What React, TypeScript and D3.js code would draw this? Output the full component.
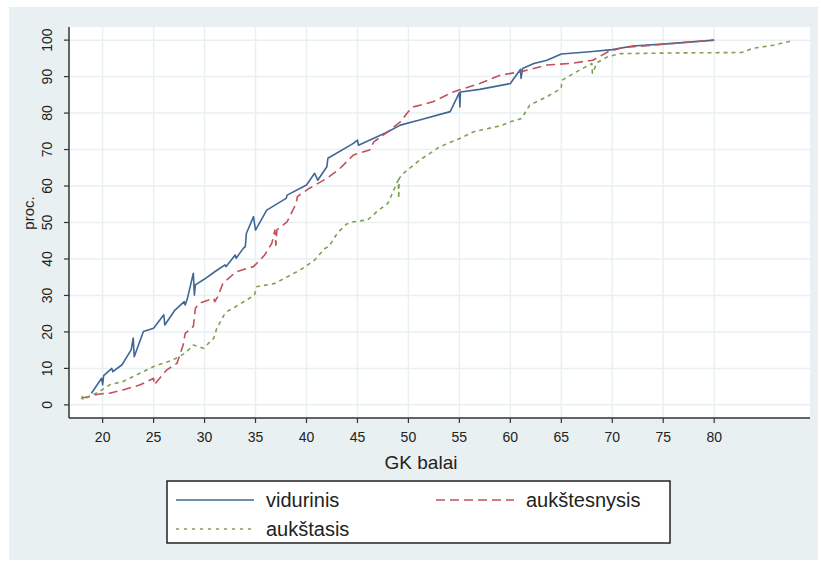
import React from 'react'
import * as d3 from 'd3'

// cumulative share (proc.) by GK balai
const vidurinis: [number, number][] = [
  [18.9, 3.2], [19.9, 7.3], [20, 5.5], [20.1, 8], [20.9, 10], [21, 9.1], [21.9, 11], [22.8, 15.1],
  [23, 18.3], [23.1, 13.2], [24, 20.1], [25, 21], [26, 24.7], [26.1, 21.9], [27.1, 26], [28, 28.3],
  [28.1, 27.4], [28.3, 29], [28.9, 36.1], [29, 30.1], [29.1, 32.9], [30, 34.5], [31, 36.5], [32, 38.4],
  [32.1, 37.9], [33, 41.1], [33.1, 40.2], [33.8, 42.9], [34, 43.4], [34.1, 47], [34.8, 51.6], [35, 47.9],
  [36.1, 53.4], [38, 56.6], [38.1, 57.5], [40, 60.3], [40.8, 63.5], [41.1, 61.6], [42, 65.3], [42.1, 67.6],
  [44.6, 71.7], [45, 72.6], [45.1, 71.2], [48, 74.9], [49.2, 76.7], [51.1, 78.1], [54.1, 80.4], [55, 85.6],
  [55.05, 81.7], [55.1, 85.8], [57, 86.5], [60, 88.1], [61, 92], [61.05, 89.5], [61.2, 92.2], [62.3, 93.6],
  [63.6, 94.5], [65, 96.2], [67.8, 96.8], [70, 97.4], [72, 98.4], [76, 99.1], [80, 100],
]

const aukstesnysis: [number, number][] = [
  [17.9, 1.8], [19.7, 3], [20.7, 3.2], [22, 4.1], [23.7, 5.5], [25, 7.3], [25.05, 5.5], [26.3, 9.6],
  [27.3, 11.4], [27.9, 16.4], [28.1, 19.6], [28.9, 21.5], [29.1, 26.5], [29.5, 27.9], [30.9, 29.2], [31, 28.3],
  [31.3, 29.7], [31.8, 33.3], [33.1, 36.5], [34.8, 37.9], [35.9, 41.1], [36.6, 44.3], [36.9, 47.9], [37, 43.8],
  [37.1, 48], [38.1, 50.2], [39, 55.3], [39.1, 57.1], [40.3, 59.4], [42, 62.1], [43.2, 64.6], [44.6, 68.5],
  [46.2, 69.9], [46.6, 72.1], [48, 74.9], [49.2, 77.6], [50, 80.4], [50.5, 81.7], [52.4, 83.1], [54.4, 85.8],
  [57, 88.1], [59, 90.4], [61, 91.3], [63.6, 93.2], [65.9, 93.6], [68.1, 94.5], [69.6, 96.8], [71.1, 98],
  [74, 98.6], [76.7, 99.3], [80, 100],
]

const aukstasis: [number, number][] = [
  [18, 2.5], [18.05, 1.4], [19.7, 3.7], [20.7, 5.5], [22, 6.4], [25, 10.5], [26.9, 12.3], [28.1, 14.2],
  [28.9, 16.4], [29.9, 15.5], [30.9, 18.3], [31.2, 21], [32, 25.1], [32.2, 25.6], [32.8, 26.5], [34.9, 30.1],
  [35.1, 32.4], [36.9, 33.3], [39.4, 37], [40.8, 39.7], [41.8, 42.9], [42.2, 43.4], [43, 47], [43.9, 49.5],
  [44.6, 50.2], [46, 50.7], [46.9, 53], [48, 55.3], [48.7, 59.8], [49, 61.6], [49.05, 56.6], [49.1, 62.1],
  [49.5, 63.5], [51.1, 67.1], [53.1, 70.8], [55.1, 73.1], [56.4, 74.9], [59, 76.5], [60, 77.6], [61.1, 78.5],
  [61.9, 82.2], [63.6, 84.5], [65, 86.8], [65.05, 89], [66.8, 91.8], [68, 93.6], [68.05, 90.9], [68.5, 93.8],
  [69.5, 95.4], [70.8, 96.3], [76.7, 96.5], [82.7, 96.6], [83.7, 97.7], [85.8, 98.6], [87.6, 99.8],
]

const xTicks = [20, 25, 30, 35, 40, 45, 50, 55, 60, 65, 70, 75, 80]
const yTicks = [0, 10, 20, 30, 40, 50, 60, 70, 80, 90, 100]

const series = [
  { name: 'vidurinis', data: vidurinis, color: '#3f6796', dash: '' },
  { name: 'aukštesnysis', data: aukstesnysis, color: '#c0525b', dash: '9 5' },
  { name: 'aukštasis', data: aukstasis, color: '#7fa153', dash: '4 4' },
]

const FONT = '"Liberation Sans", Arial, sans-serif'

export default function App() {
  const plot = { left: 69, right: 810, top: 27, bottom: 418 }
  const x = d3.scaleLinear().domain([16.7, 89.4]).range([plot.left, plot.right])
  const y = d3.scaleLinear().domain([-3.6, 103.6]).range([plot.bottom, plot.top])
  const line = d3.line<[number, number]>().x(d => x(d[0])).y(d => y(d[1]))

  const gridColor = '#e9f0f2'
  const axisColor = '#333'

  const legendItems = [
    { s: series[0], lx: 176, ly: 500 },
    { s: series[1], lx: 436, ly: 500 },
    { s: series[2], lx: 176, ly: 529 },
  ]

  return (
    <svg width={821} height={565} style={{ position: 'absolute', left: 0, top: 0 }} fontFamily={FONT}>
      <rect x={0} y={0} width={821} height={565} fill="#fff" />
      <rect x={9} y={7} width={809} height={553} fill="#e9f0f2" />
      <rect x={plot.left} y={plot.top} width={plot.right - plot.left} height={plot.bottom - plot.top} fill="#fff" />

      {/* grid */}
      {yTicks.map(t => (
        <line key={`gy${t}`} x1={plot.left} x2={plot.right} y1={y(t)} y2={y(t)} stroke={gridColor} strokeWidth={1.5} />
      ))}
      {xTicks.map(t => (
        <line key={`gx${t}`} x1={x(t)} x2={x(t)} y1={plot.top} y2={plot.bottom} stroke={gridColor} strokeWidth={1.5} />
      ))}

      {/* series */}
      {series.map(s => (
        <path key={s.name} d={line(s.data) || ''} fill="none" stroke={s.color} strokeWidth={1.6}
          strokeDasharray={s.dash || undefined} strokeLinejoin="round" />
      ))}

      {/* axes */}
      <line x1={plot.left} x2={plot.left} y1={plot.top} y2={plot.bottom} stroke={axisColor} strokeWidth={1.5} />
      <line x1={plot.left} x2={plot.right} y1={plot.bottom} y2={plot.bottom} stroke={axisColor} strokeWidth={1.5} />
      {yTicks.map(t => (
        <g key={`yt${t}`}>
          <line x1={plot.left - 5} x2={plot.left} y1={y(t)} y2={y(t)} stroke={axisColor} strokeWidth={1.2} />
          <text transform={`translate(52,${y(t)}) rotate(-90)`} textAnchor="middle" fontSize={14} fill="#222">{t}</text>
        </g>
      ))}
      {xTicks.map(t => (
        <g key={`xt${t}`}>
          <line x1={x(t)} x2={x(t)} y1={plot.bottom} y2={plot.bottom + 5} stroke={axisColor} strokeWidth={1.2} />
          <text x={x(t)} y={442} textAnchor="middle" fontSize={14} fill="#222">{t}</text>
        </g>
      ))}

      <text transform="translate(34,213) rotate(-90)" textAnchor="middle" fontSize={15} fill="#222">proc.</text>
      <text x={421} y={469} textAnchor="middle" fontSize={19} fill="#222">GK balai</text>

      {/* legend */}
      <rect x={167} y={481} width={503} height={62} fill="#fff" stroke="#222" strokeWidth={1.5} />
      {legendItems.map(({ s, lx, ly }) => (
        <g key={`lg${s.name}`}>
          <line x1={lx} x2={lx + 78} y1={ly} y2={ly} stroke={s.color} strokeWidth={1.6}
            strokeDasharray={s.name === 'aukštasis' ? '3 5' : s.dash || undefined} />
          <text x={lx + 90} y={ly + 7} fontSize={20} fill="#222">{s.name}</text>
        </g>
      ))}
    </svg>
  )
}
